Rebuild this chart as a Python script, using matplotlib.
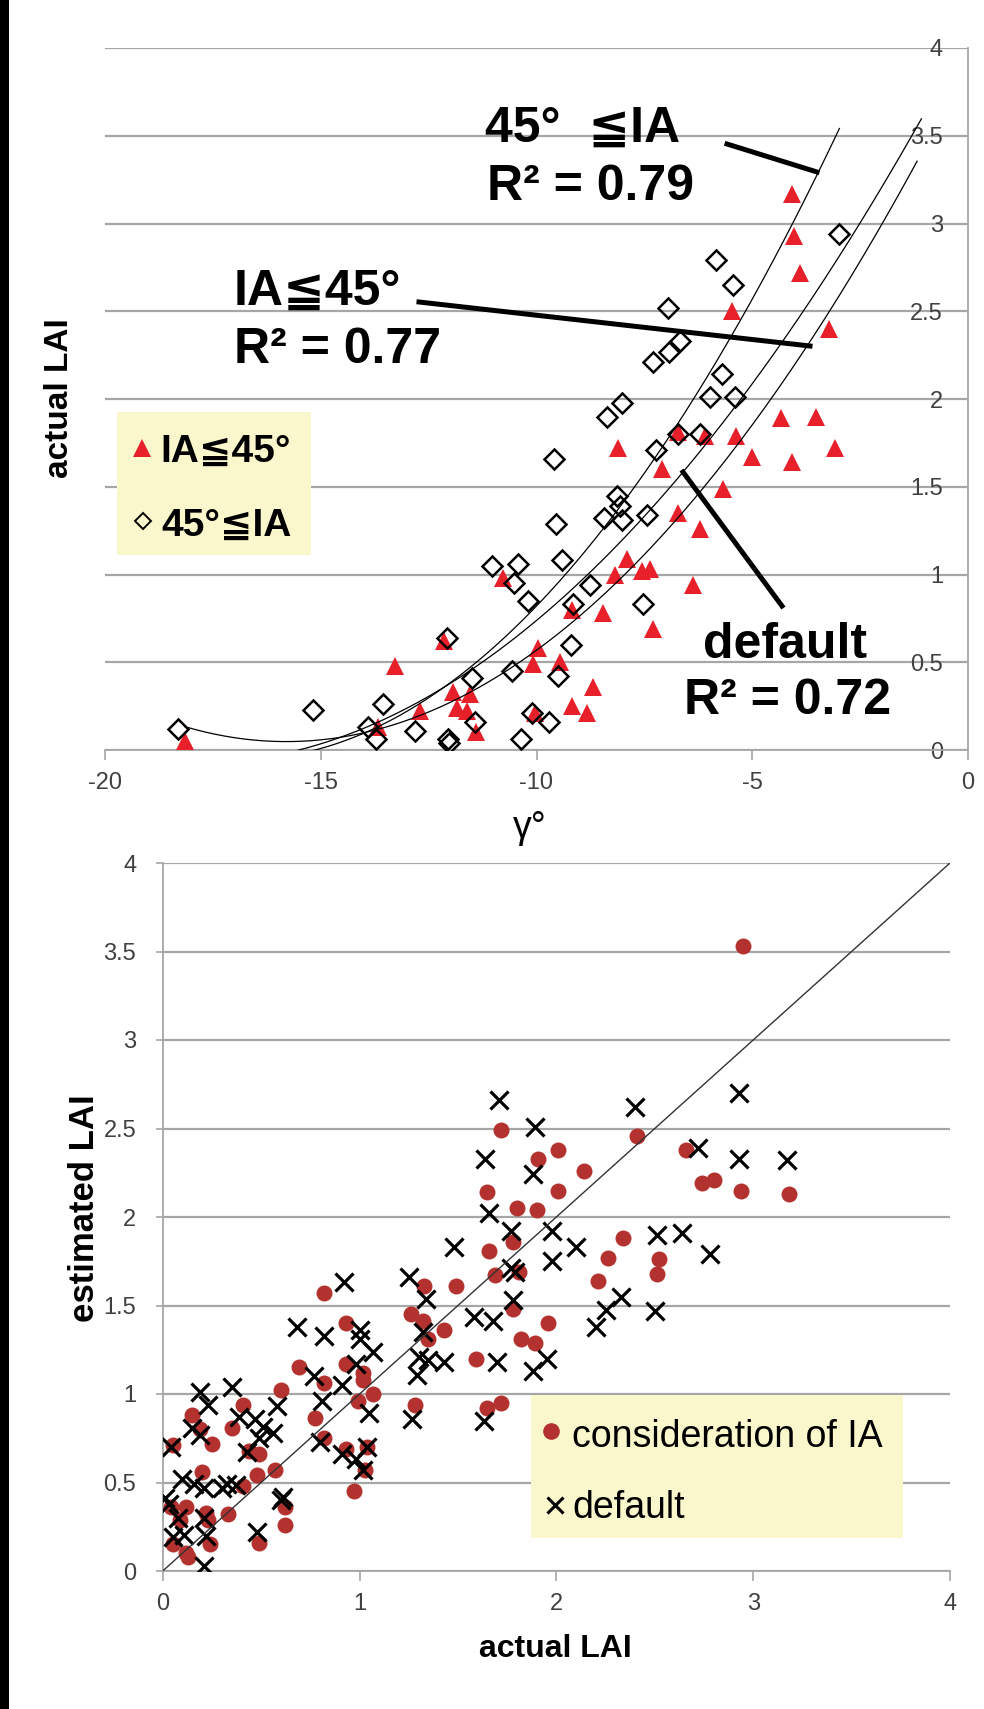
import matplotlib
matplotlib.use('Agg')
import matplotlib.pyplot as plt
import numpy as np
from matplotlib.lines import Line2D
from matplotlib.patches import Rectangle

plt.rcParams['font.family'] = ['Liberation Sans', 'DejaVu Sans']
plt.rcParams['axes.unicode_minus'] = False

W, H = 984, 1709

# --- top chart: gamma angle vs actual LAI ---
# IA <= 45 deg (red triangles)
low_x = [-18.15, -13.29, -12.15, -13.68, -12.71, -11.93, -11.85, -11.62, -11.40, -10.77,
         -7.91, -8.18, -7.55, -7.36, -6.38, -8.45, -9.17, -7.30, -9.96, -10.09,
         -9.45, -8.70, -9.18, -8.84, -10.04, -11.54, -5.46, -8.10, -6.71, -6.10,
         -5.38, -5.01, -7.08, -5.67, -6.71, -6.22, -4.08, -4.03, -3.90, -3.21,
         -4.33, -3.52, -4.08, -3.08]
low_y = [0.05, 0.48, 0.62, 0.13, 0.22, 0.33, 0.24, 0.22, 0.10, 0.98,
         1.09, 1.00, 1.02, 1.03, 0.94, 0.78, 0.80, 0.69, 0.58, 0.49,
         0.50, 0.36, 0.25, 0.21, 0.21, 0.32, 2.50, 1.72, 1.81, 1.79,
         1.79, 1.67, 1.60, 1.49, 1.35, 1.26, 3.17, 2.93, 2.72, 2.40,
         1.89, 1.90, 1.64, 1.72]

# 45 deg <= IA (open diamonds)
high_x = [-18.31, -15.19, -13.55, -13.90, -13.71, -12.81, -12.08, -12.05, -12.02, -11.50,
          -11.42, -11.02, -10.42, -9.41, -10.52, -10.19, -8.75, -9.15, -7.53, -9.20,
          -10.56, -9.51, -10.11, -9.72, -10.37, -6.95, -6.67, -6.92, -7.31, -5.71,
          -5.97, -5.40, -8.02, -8.36, -6.71, -6.21, -9.60, -7.22, -8.14, -8.06,
          -8.44, -8.02, -7.44, -9.55, -2.98, -5.83, -5.44]
high_y = [0.12, 0.23, 0.26, 0.13, 0.06, 0.11, 0.64, 0.06, 0.04, 0.41,
          0.16, 1.05, 1.06, 1.08, 0.95, 0.85, 0.94, 0.83, 0.83, 0.60,
          0.45, 0.42, 0.21, 0.16, 0.06, 2.52, 2.33, 2.27, 2.21, 2.14,
          2.01, 2.01, 1.98, 1.90, 1.80, 1.80, 1.66, 1.71, 1.45, 1.39,
          1.32, 1.31, 1.34, 1.29, 2.94, 2.79, 2.65]

# forward forecast of each quadratic trendline (x units)
forward_high = 0.0
forward_low = 1.9
forward_all = 1.9

# --- bottom chart: actual vs estimated LAI ---
ia_x = [2.95, 1.72, 2.41, 2.01, 1.905, 2.66, 2.14, 2.74, 2.80, 2.94, 3.18, 1.65, 2.01, 1.80, 1.90,
        2.34, 2.26, 2.52, 2.51, 2.21,
        1.78, 1.66, 1.69, 1.81, 1.33, 1.49, 0.82, 1.26, 1.32, 1.43, 1.35, 0.93, 1.78, 1.96, 1.82,
        1.89, 1.59, 0.93, 1.02, 1.02, 1.07, 0.99, 0.82, 1.28, 1.65, 1.72, 0.82,
        0.775, 0.69, 0.60, 1.04, 1.03, 0.97, 0.93,
        0.15, 0.35, 0.41, 0.25, 0.05, 0.44, 0.49, 0.20, 0.48, 0.57, 0.41, 0.04, 0.12, 0.22, 0.33,
        0.62, 0.62, 0.49, 0.05, 0.12, 0.24, 0.19, 0.09, 0.23, 0.13]
ia_y = [3.53, 2.49, 2.46, 2.38, 2.33, 2.38, 2.26, 2.19, 2.21, 2.145, 2.13, 2.14, 2.145, 2.05, 2.04,
        1.88, 1.77, 1.76, 1.68, 1.64,
        1.86, 1.81, 1.67, 1.69, 1.61, 1.61, 1.57, 1.45, 1.41, 1.36, 1.31, 1.40, 1.48, 1.40, 1.31,
        1.29, 1.20, 1.17, 1.12, 1.08, 1.00, 0.96, 1.06, 0.94, 0.92, 0.95, 0.75,
        0.867, 1.15, 1.02, 0.70, 0.57, 0.45, 0.69,
        0.88, 0.81, 0.94, 0.72, 0.71, 0.68, 0.66, 0.56, 0.54, 0.57, 0.48, 0.36, 0.36, 0.33, 0.32,
        0.36, 0.26, 0.16, 0.15, 0.10, 0.15, 0.80, 0.29, 0.29, 0.08]

def_x = [1.71, 2.40, 2.93, 1.89, 1.64, 2.72, 2.93, 3.17, 1.88, 1.66, 2.51, 2.64, 2.78, 2.20, 2.25,
         2.33, 2.50,
         0.92, 1.25, 1.48, 1.77, 1.98, 1.98, 2.10, 1.77, 1.79, 1.34, 1.78, 1.58, 1.68, 1.32, 1.00,
         1.00, 0.82, 1.07, 0.98, 1.30, 1.35, 1.43, 1.29, 1.70, 1.88, 1.95, 0.91, 0.81, 1.05, 1.265,
         1.63,
         0.77, 0.68, 0.35, 0.19, 0.98, 1.04, 1.02,
         0.23, 0.15, 0.19, 0.04, 0.39, 0.47, 0.51, 0.56, 0.49, 0.43, 0.58, 0.80, 0.91, 0.10, 0.16,
         0.01, 0.03, 0.21, 0.30, 0.37, 0.325, 0.60, 0.61, 0.08, 0.21, 0.11, 0.05, 0.22, 0.48, 0.21]
def_y = [2.66, 2.62, 2.70, 2.51, 2.33, 2.39, 2.33, 2.32, 2.245, 2.02, 1.90, 1.91, 1.79, 1.38, 1.475,
         1.55, 1.47,
         1.63, 1.66, 1.83, 1.92, 1.92, 1.75, 1.83, 1.71, 1.69, 1.535, 1.53, 1.435, 1.41, 1.35, 1.36,
         1.31, 1.33, 1.24, 1.17, 1.21, 1.19, 1.18, 1.11, 1.18, 1.13, 1.20, 1.05, 0.96, 0.89, 0.86,
         0.85,
         1.10, 1.38, 1.04, 1.01, 0.63, 0.70, 0.57,
         0.94, 0.81, 0.77, 0.70, 0.87, 0.86, 0.815, 0.78, 0.75, 0.67, 0.93, 0.73, 0.66, 0.52, 0.49,
         0.41, 0.38, 0.47, 0.47, 0.485, 0.49, 0.40, 0.42, 0.30, 0.30, 0.205, 0.19, 0.195, 0.22, 0.03]

GRID = '#a6a6a6'
TXT = '#404040'
RED = '#e8202a'
DARKRED = '#b3322f'
YELLOW = '#faf7cc'


def fx(px):
    return px / W


def fy(py):
    return 1 - py / H


def trend(x, y, forward):
    coef = np.polyfit(x, y, 2)
    xs = np.linspace(min(x), max(x) + forward, 300)
    return xs, np.polyval(coef, xs)


fig = plt.figure(figsize=(W / 100, H / 100), dpi=100)
fig.patches.append(Rectangle((0, 0), 9 / W, 1, transform=fig.transFigure,
                             facecolor='black', edgecolor='none'))

# ---------- top chart ----------
ax1 = fig.add_axes([fx(105), fy(750), fx(968 - 105), (750 - 48) / H])
ax1.set_xlim(-20, 0)
ax1.set_ylim(0, 4)
ax1.set_xticks(np.arange(-20, 1, 5))
ax1.set_yticks(np.arange(0, 4.01, 0.5))
ax1.set_yticklabels(['0', '0.5', '1', '1.5', '2', '2.5', '3', '3.5', '4'])
ax1.grid(axis='y', color=GRID, lw=1.6)
ax1.set_axisbelow(True)
for s in ['left', 'top']:
    ax1.spines[s].set_visible(False)
for s in ['right', 'bottom']:
    ax1.spines[s].set_color(GRID)
    ax1.spines[s].set_linewidth(1.3)
ax1.yaxis.tick_right()
ax1.tick_params(axis='y', length=0, pad=-18, labelsize=17, labelcolor=TXT)
for t in ax1.yaxis.get_major_ticks():
    t.label2.set_horizontalalignment('right')
ax1.tick_params(axis='x', direction='out', length=7.5, width=1.2, color=GRID,
                pad=8, labelsize=17, labelcolor=TXT)

ax1.plot(low_x, low_y, linestyle='none', marker='^', ms=13, color=RED,
         markeredgewidth=0, zorder=3)
ax1.plot(high_x, high_y, linestyle='none', marker='D', ms=10, markerfacecolor='none',
         markeredgecolor='black', markeredgewidth=1.8, zorder=4)

all_x = low_x + high_x
all_y = low_y + high_y
for (xx, yy, fw) in [(high_x, high_y, forward_high), (low_x, low_y, forward_low),
                     (all_x, all_y, forward_all)]:
    tx, ty = trend(xx, yy, fw)
    ax1.plot(tx, ty, color='black', lw=0.9, zorder=5)

# legend (top)
fig.patches.append(Rectangle((fx(117), fy(555)), fx(311 - 117), (555 - 412) / H,
                             transform=fig.transFigure, facecolor=YELLOW, edgecolor='none'))
fig.lines.append(Line2D([fx(142)], [fy(448)], transform=fig.transFigure, marker='^', ms=13,
                        color=RED, markeredgewidth=0, linestyle='none'))
fig.lines.append(Line2D([fx(143)], [fy(521)], transform=fig.transFigure, marker='D', ms=8,
                        markerfacecolor='none', markeredgecolor='black', markeredgewidth=1.4,
                        linestyle='none'))
fig.text(fx(160), fy(462), 'IA≦45°', fontsize=28, fontweight='bold', va='baseline')
fig.text(fx(161), fy(536), '45°≦IA', fontsize=28, fontweight='bold', va='baseline')

# annotations
ann = dict(fontsize=36, fontweight='bold', va='baseline', ha='left')
fig.text(fx(485), fy(142), '45°  ≦IA', **ann)
fig.text(fx(487), fy(200), 'R² = 0.79', **ann)
fig.text(fx(234), fy(305), 'IA≦45°', **ann)
fig.text(fx(234), fy(363), 'R² = 0.77', **ann)
fig.text(fx(703), fy(658), 'default', **ann)
fig.text(fx(684), fy(714), 'R² = 0.72', **ann)
for (x0, y0, x1, y1) in [(727, 144, 817, 172), (419, 302, 810, 346), (782, 606, 683, 472)]:
    fig.lines.append(Line2D([fx(x0), fx(x1)], [fy(y0), fy(y1)], transform=fig.transFigure,
                            color='black', lw=3.6))

fig.text(fx(530), fy(828), 'γ°', fontsize=27, ha='center', va='center')
fig.text(fx(60), fy(398), 'actual LAI', fontsize=24, fontweight='bold', rotation=90,
         ha='center', va='center')

# ---------- bottom chart ----------
ax2 = fig.add_axes([fx(162.7), fy(1571), fx(950 - 162.7), (1571 - 863) / H])
ax2.set_xlim(0, 4)
ax2.set_ylim(0, 4)
ax2.set_xticks(np.arange(0, 5, 1))
ax2.set_yticks(np.arange(0, 4.01, 0.5))
ax2.set_yticklabels(['0', '0.5', '1', '1.5', '2', '2.5', '3', '3.5', '4'])
ax2.grid(axis='y', color=GRID, lw=1.6)
ax2.set_axisbelow(True)
for s in ['right', 'top']:
    ax2.spines[s].set_visible(False)
for s in ['left', 'bottom']:
    ax2.spines[s].set_color(GRID)
    ax2.spines[s].set_linewidth(1.3)
ax2.tick_params(axis='y', direction='out', length=5, width=1.2, color=GRID,
                pad=14, labelsize=17, labelcolor=TXT)
ax2.tick_params(axis='x', direction='out', length=7.5, width=1.2, color=GRID,
                pad=8, labelsize=17, labelcolor=TXT)

ax2.plot(ia_x, ia_y, linestyle='none', marker='o', ms=11.5, color=DARKRED,
         markeredgewidth=0, zorder=3)
ax2.plot(def_x, def_y, linestyle='none', marker='x', ms=13, color='black',
         markeredgewidth=2.3, zorder=4)
ax2.plot([0, 4], [0, 4], color='#333333', lw=1.0, zorder=5)

# legend (bottom)
fig.patches.append(Rectangle((fx(531), fy(1538)), fx(903 - 531), (1538 - 1395) / H,
                             transform=fig.transFigure, facecolor=YELLOW, edgecolor='none'))
fig.lines.append(Line2D([fx(551)], [fy(1431)], transform=fig.transFigure, marker='o', ms=12,
                        color=DARKRED, markeredgewidth=0, linestyle='none'))
fig.lines.append(Line2D([fx(555)], [fy(1505)], transform=fig.transFigure, marker='x', ms=12,
                        color='black', markeredgewidth=2.2, linestyle='none'))
fig.text(fx(572), fy(1447), 'consideration of IA', fontsize=27, va='baseline')
fig.text(fx(572), fy(1518), 'default', fontsize=27, va='baseline')

fig.text(fx(555), fy(1649), 'actual LAI', fontsize=23, fontweight='bold',
         ha='center', va='center')
fig.text(fx(84), fy(1208), 'estimated LAI', fontsize=25, fontweight='bold', rotation=90,
         ha='center', va='center')

fig.savefig('out.png', dpi=100)
